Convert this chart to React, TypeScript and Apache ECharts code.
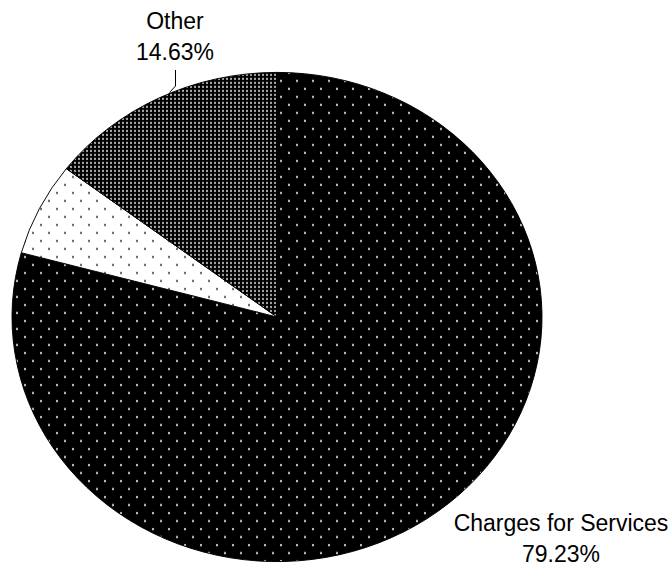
import React, { useEffect, useRef } from "react";
import * as echarts from "echarts";

// ---- data ----
const categories = ["Charges for Services", "Unlabeled", "Other"];
const values = [79.23, 6.14, 14.63];
const showLabel = [true, false, true];

// ---- layout ----
const W = 671;
const H = 573;
const CX = 277;
const CY = 317;
const RX = 265;
const RY = 244.5;
const SY = RY / RX;
const labelPos: ({ x: number; y: number } | null)[] = [
  { x: 561, y: 538 },
  null,
  { x: 175, y: 36 },
];
const leaderPts: (number[][] | null)[] = [
  null,
  null,
  [
    [175.5, 70],
    [175.5, 86],
    [169.5, 92.5],
  ],
];

function makeTile(
  w: number,
  h: number,
  bg: string,
  dot: string,
  dots: number[][],
  ds: number
) {
  const c = document.createElement("canvas");
  c.width = w;
  c.height = h;
  const ctx = c.getContext("2d")!;
  ctx.fillStyle = bg;
  ctx.fillRect(0, 0, w, h);
  ctx.fillStyle = dot;
  dots.forEach(([x, y]) => ctx.fillRect(x, y, ds, ds));
  return c;
}

export default function App() {
  const ref = useRef<HTMLDivElement>(null);
  useEffect(() => {
    document.body.style.margin = "0";
    if (!ref.current) return;
    const chart = echarts.init(ref.current, undefined, { renderer: "svg" });

    const tiles = [
      makeTile(16, 16, "#000000", "#d8d8d8", [[3, 3], [11, 11]], 2),
      makeTile(16, 16, "#ffffff", "#555555", [[3, 3], [11, 11]], 2),
      makeTile(4, 4, "#000000", "#c4c4c4", [[1, 1]], 2),
    ];
    const patterns = tiles.map((t) => ({
      image: t,
      repeat: "repeat",
      scaleX: 1,
      scaleY: 1 / SY,
    }));

    const total = values.reduce((a, b) => a + b, 0);

    const option: any = {
      animation: false,
      backgroundColor: "#ffffff",
      series: [
        {
          type: "custom",
          coordinateSystem: "none",
          data: values.map((v, i) => ({ name: categories[i], value: v })),
          renderItem: (params: any, api: any) => {
            const i = params.dataIndex;
            const v = api.value(0);
            const before = values.slice(0, i).reduce((a, b) => a + b, 0);
            const start = -Math.PI / 2 + (2 * Math.PI * before) / total;
            const end = start + (2 * Math.PI * v) / total;
            const children: any[] = [
              {
                type: "sector",
                x: CX,
                y: CY,
                scaleY: SY,
                shape: {
                  cx: 0,
                  cy: 0,
                  r0: 0,
                  r: RX,
                  startAngle: start,
                  endAngle: end,
                  clockwise: true,
                },
                style: {
                  fill: patterns[i],
                  stroke: "#000000",
                  lineWidth: 1,
                  strokeNoScale: true,
                },
              },
            ];
            const lp = leaderPts[i];
            if (lp) {
              children.push({
                type: "polyline",
                shape: { points: lp },
                style: { stroke: "#000000", lineWidth: 1, fill: "none" },
                z2: 10,
              });
            }
            const pos = labelPos[i];
            if (showLabel[i] && pos) {
              children.push({
                type: "text",
                x: pos.x,
                y: pos.y,
                z2: 10,
                style: {
                  text: categories[i] + "\n" + v.toFixed(2) + "%",
                  fill: "#000000",
                  fontSize: 23,
                  fontFamily: "Liberation Sans, Arial, sans-serif",
                  align: "center",
                  verticalAlign: "middle",
                  lineHeight: 31,
                },
              });
            }
            return { type: "group", children };
          },
        },
      ],
    };
    chart.setOption(option);
    return () => chart.dispose();
  }, []);
  return <div ref={ref} style={{ width: W, height: H }} />;
}
